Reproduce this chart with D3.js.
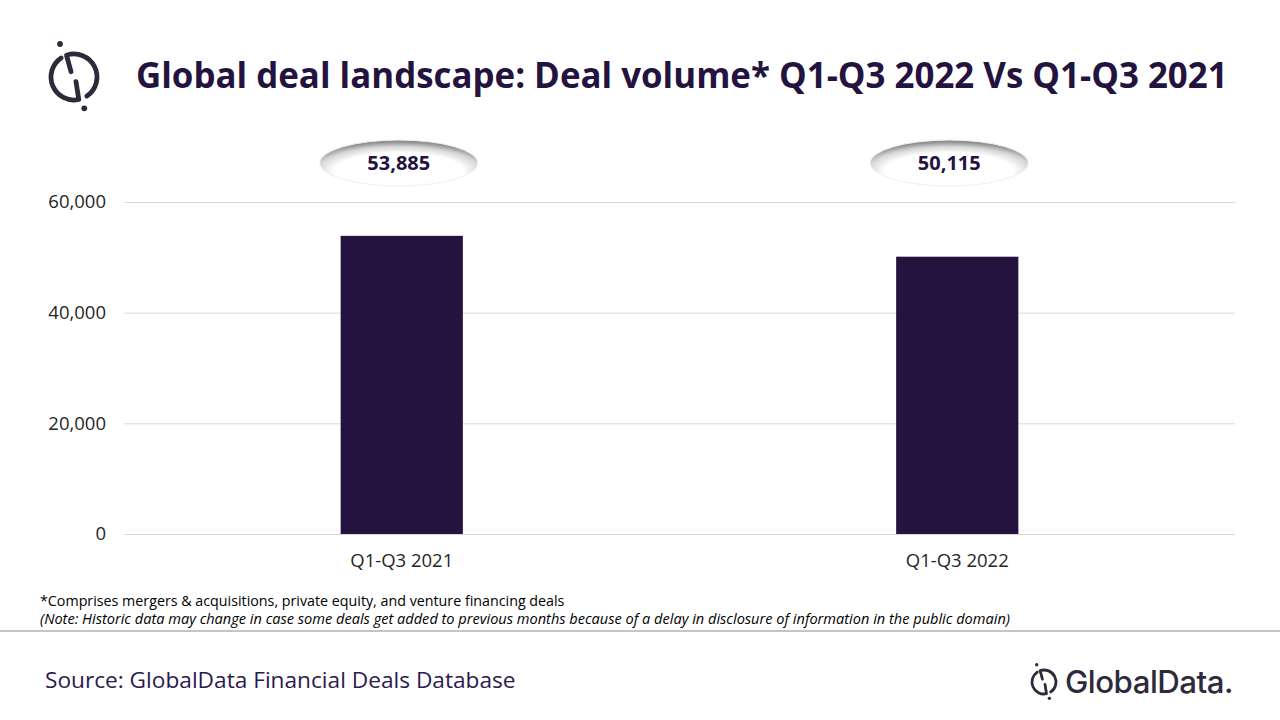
<!DOCTYPE html>
<html><head><meta charset="utf-8">
<script src="https://cdn.jsdelivr.net/npm/d3@7"></script>
<style>html,body{margin:0;padding:0;background:#fff;}svg{display:block;}</style>
</head><body>
<svg id="c" width="1280" height="720"></svg>
<script>
const categories = ["Q1-Q3 2021", "Q1-Q3 2022"];
const dealVolume = [53885, 50115];
const yTicks = [0, 20000, 40000, 60000];
const titleText = "Global deal landscape: Deal volume* Q1-Q3 2022 Vs Q1-Q3 2021";
const footnote1 = "*Comprises mergers & acquisitions, private equity, and venture financing deals";
const footnote2 = "(Note: Historic data may change in case some deals get added to previous months because of a delay in disclosure of information in the public domain)";
const sourceText = "Source: GlobalData Financial Deals Database";

const svg = d3.select("#c");
const dark = "#24133f";
const FONT = "'Open Sans', 'Noto Sans', sans-serif";

function fit(sel, w) {
  const n = sel.node();
  const cur = n.getComputedTextLength();
  const fs = parseFloat(sel.attr("font-size"));
  sel.attr("font-size", fs * w / cur);
}

// Title
const t = svg.append("text").attr("x", 136).attr("y", 88).attr("font-family", FONT)
  .attr("font-weight", 700).attr("font-size", 32).attr("fill", dark).text(titleText);
fit(t, 1092);

// Logo (GlobalData mark)
function logo(g, cx, cy, r, sw, col) {
  const rad = a => a * Math.PI / 180;
  const pt = a => [cx + r * Math.sin(rad(a)), cy - r * Math.cos(rad(a))];
  const k = r / 23;
  const a0 = pt(-19), a1 = pt(146), b0 = pt(168), b1 = pt(326);
  g.append("path")
    .attr("d", `M${cx - 3*k},${cy - 5.3*k} L${a0[0]},${a0[1]} A${r},${r} 0 0 1 ${a1[0]},${a1[1]}`)
    .attr("fill", "none").attr("stroke", col).attr("stroke-width", sw).attr("stroke-linecap", "round").attr("stroke-linejoin", "round");
  g.append("path")
    .attr("d", `M${cx + 2*k},${cy + 4.7*k} L${b0[0]},${b0[1]} A${r},${r} 0 0 1 ${b1[0]},${b1[1]}`)
    .attr("fill", "none").attr("stroke", col).attr("stroke-width", sw).attr("stroke-linecap", "round").attr("stroke-linejoin", "round");
  g.append("circle").attr("cx", cx - 14*k).attr("cy", cy - 33*k).attr("r", sw * 0.6).attr("fill", col);
  g.append("circle").attr("cx", cx + 10.3*k).attr("cy", cy + 31.3*k).attr("r", sw * 0.6).attr("fill", col);
}
logo(svg.append("g"), 74, 77, 23, 4.8, "#2e2a3c");

// Chart
const m = {l: 124, r: 1235, t: 202, b: 534};
const x = d3.scaleBand().domain(categories).range([m.l, m.r]).paddingInner(0.78).paddingOuter(0.39);
const y = d3.scaleLinear().domain([0, 60000]).range([m.b, m.t]);

const ga = svg.append("g").attr("transform", `translate(${m.l},0)`)
  .call(d3.axisLeft(y).tickValues(yTicks).tickSize(-(m.r - m.l)).tickPadding(18).tickFormat(d3.format(",")));
ga.select(".domain").remove();
ga.selectAll(".tick line").attr("stroke", "#d9d9d9").attr("stroke-width", 1);
ga.selectAll(".tick text").attr("font-family", FONT).attr("font-size", 18.5).attr("fill", "#262626");

svg.selectAll("rect.bar").data(dealVolume).join("rect").attr("class", "bar")
  .attr("x", (d, i) => x(categories[i])).attr("width", x.bandwidth())
  .attr("y", d => y(d)).attr("height", d => y(0) - y(d)).attr("fill", dark);

const gx = svg.append("g").attr("transform", `translate(0,${m.b})`)
  .call(d3.axisBottom(x).tickSize(0).tickPadding(20));
gx.select(".domain").remove();
gx.selectAll(".tick text").attr("font-family", FONT).attr("font-size", 18.5).attr("fill", "#262626");

// Ellipse labels
const defs = svg.append("defs");
const rg = defs.append("radialGradient").attr("id", "eg").attr("cx", "50%").attr("cy", "64%").attr("r", "60%").attr("fx", "50%").attr("fy", "78%");
rg.append("stop").attr("offset", "0%").attr("stop-color", "#ffffff");
rg.append("stop").attr("offset", "68%").attr("stop-color", "#ffffff");
rg.append("stop").attr("offset", "86%").attr("stop-color", "#d6d6d6");
rg.append("stop").attr("offset", "100%").attr("stop-color", "#8f8f8f");

const lab = svg.selectAll("g.lab").data(dealVolume).join("g").attr("class", "lab")
  .attr("transform", (d, i) => `translate(${x(categories[i]) + x.bandwidth()/2 - 3 - 5*i},163)`);
lab.append("ellipse").attr("rx", 79).attr("ry", 23).attr("fill", "url(#eg)")
  .attr("stroke", "#f0f0f0").attr("stroke-width", 1);
lab.append("text").attr("text-anchor", "middle").attr("y", 7).attr("font-family", FONT)
  .attr("font-weight", 700).attr("font-size", 20).attr("fill", dark).text(d => d3.format(",")(d));

// Footnotes
const f1 = svg.append("text").attr("x", 40).attr("y", 606).attr("font-family", FONT).attr("font-size", 13).attr("fill", "#000").text(footnote1);
fit(f1, 525);
const f2 = svg.append("text").attr("x", 40).attr("y", 624).attr("font-family", FONT).attr("font-size", 13).attr("font-style", "italic").attr("fill", "#000").text(footnote2);
fit(f2, 971);
svg.append("line").attr("x1", 0).attr("x2", 1280).attr("y1", 631).attr("y2", 631).attr("stroke", "#8c8c8c").attr("stroke-width", 1.2);

const s = svg.append("text").attr("x", 45).attr("y", 688).attr("font-family", FONT).attr("font-size", 22).attr("fill", "#2b1a4c").text(sourceText);
fit(s, 471);

// GlobalData logo bottom right
logo(svg.append("g"), 1044, 682, 12, 2.8, "#2e2a3c");
const gd = svg.append("text").attr("x", 1065).attr("y", 693).attr("font-family", "Inter, 'Open Sans', sans-serif")
  .attr("font-weight", 500).attr("font-size", 26).attr("fill", "#2e2a3c").attr("letter-spacing", -0.5).text("GlobalData.");
fit(gd, 167);
</script>
</body></html>
